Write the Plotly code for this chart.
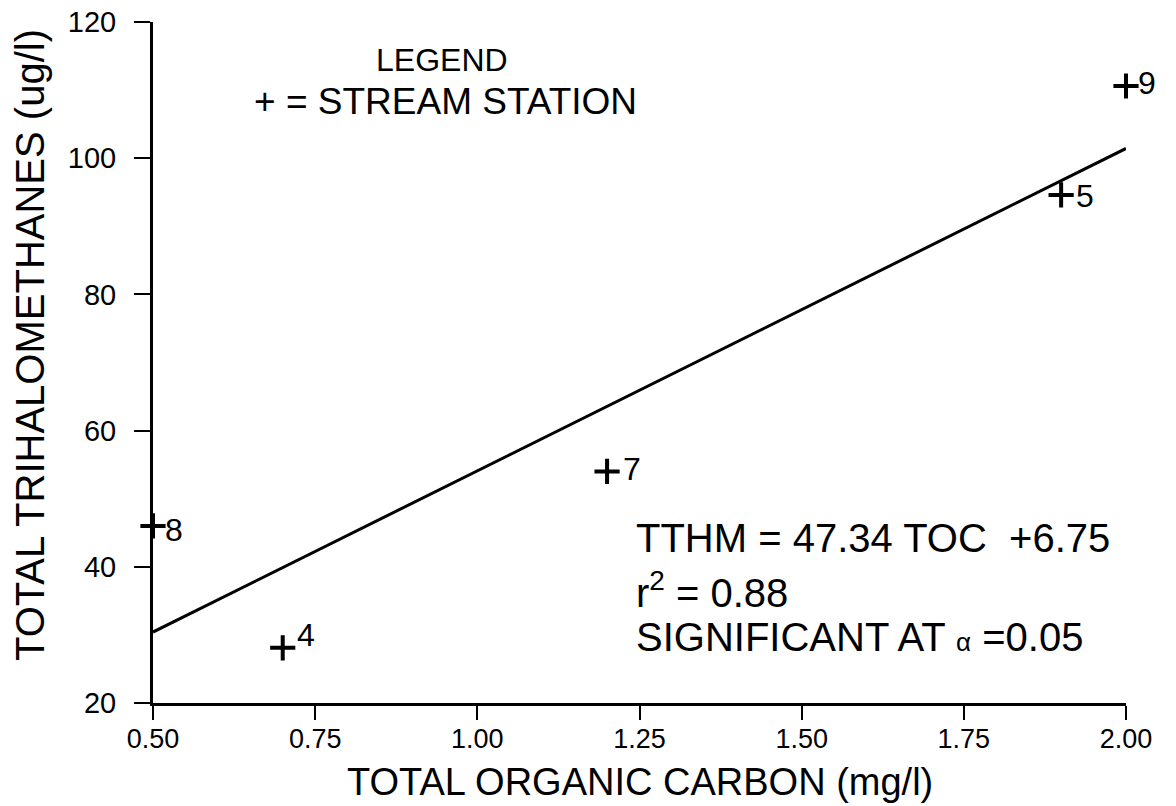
import plotly.graph_objects as go

# Data
stations = ["8", "4", "7", "5", "9"]
toc = [0.50, 0.70, 1.20, 1.90, 2.00]          # Total organic carbon (mg/l)
tthm = [46.0, 28.1, 54.0, 94.6, 110.6]        # Total trihalomethanes (ug/l)

# Regression: TTHM = 47.34 TOC + 6.75
slope = 47.34
intercept = 6.75
fit_x = [0.50, 2.00]
fit_y = [slope * x + intercept for x in fit_x]

x_ticks = [0.50, 0.75, 1.00, 1.25, 1.50, 1.75, 2.00]
x_ticklabels = ["0.50", "0.75", "1.00", "1.25", "1.50", "1.75", "2.00"]
y_ticks = [20, 40, 60, 80, 100, 120]

# label offsets (pixels) for each station number
label_dx = [10, 12, 14, 13, 10]
label_dy = [-4, 13, 2, -1, 3]

FONT = "Liberation Sans, Arial, Helvetica, sans-serif"

# plot area in screen pixels (page has an 8px body offset)
PL, PR, PT, PB = 153, 1126, 22, 703
OFF = 8


def px(sx):
    return (sx - PL) / (PR - PL)


def py(sy):
    return (PB - sy) / (PB - PT)


fig = go.Figure()

fig.add_trace(go.Scatter(
    x=fit_x, y=fit_y, mode="lines",
    line=dict(color="black", width=3),
    showlegend=False, hoverinfo="skip",
))

fig.add_trace(go.Scatter(
    x=toc, y=tthm, mode="markers",
    marker=dict(symbol="cross-thin", size=18, color="black",
                line=dict(color="black", width=4)),
    cliponaxis=False, showlegend=False,
))

for s, x, y, dx, dy in zip(stations, toc, tthm, label_dx, label_dy):
    fig.add_annotation(
        x=x, y=y, xref="x", yref="y", text=s, showarrow=False,
        xanchor="left", yanchor="middle", xshift=dx, yshift=dy,
        font=dict(family=FONT, size=32, color="black"),
    )

# Legend text
fig.add_annotation(
    x=px(442), y=py(60), xref="paper", yref="paper",
    text="LEGEND", showarrow=False, xanchor="center", yanchor="middle",
    font=dict(family=FONT, size=32, color="black"),
)
fig.add_annotation(
    x=px(252), y=py(101), xref="paper", yref="paper",
    text="+ = STREAM STATION", showarrow=False, xanchor="left", yanchor="middle",
    font=dict(family=FONT, size=37, color="black"),
)

# Regression text
eq_lines = [
    ("TTHM = 47.34 TOC  +6.75", 538),
    ("r<sup>2</sup> = 0.88", 590),
    ("SIGNIFICANT AT <span style='font-size:26px'>α</span> =0.05", 637),
]
for txt, ysc in eq_lines:
    fig.add_annotation(
        x=px(634), y=py(ysc), xref="paper", yref="paper",
        text=txt, showarrow=False, xanchor="left", yanchor="middle",
        font=dict(family=FONT, size=40, color="black"),
    )

# Axis titles
fig.add_annotation(
    x=px(640), y=py(782), xref="paper", yref="paper",
    text="TOTAL ORGANIC CARBON (mg/l)", showarrow=False,
    xanchor="center", yanchor="middle",
    font=dict(family=FONT, size=38, color="black"),
)
fig.add_annotation(
    x=px(30), y=py(345), xref="paper", yref="paper",
    text="TOTAL TRIHALOMETHANES (ug/l)", showarrow=False, textangle=-90,
    xanchor="center", yanchor="middle",
    font=dict(family=FONT, size=40, color="black"),
)

fig.update_xaxes(
    range=[0.5, 2.0], tickvals=x_ticks, ticktext=x_ticklabels,
    showline=True, linecolor="black", linewidth=3,
    ticks="outside", ticklen=14, tickwidth=2, tickcolor="black",
    showgrid=False, zeroline=False, automargin=False,
    ticklabeloverflow="allow", ticklabelstandoff=-4,
    tickfont=dict(family=FONT, size=27, color="black"),
)
fig.update_yaxes(
    range=[20, 120], tickvals=y_ticks,
    showline=True, linecolor="black", linewidth=3,
    ticks="outside", ticklen=16, tickwidth=2, tickcolor="black",
    showgrid=False, zeroline=False, automargin=False,
    ticklabeloverflow="allow", ticklabelstandoff=12,
    tickfont=dict(family=FONT, size=29, color="black"),
)

fig.update_layout(
    width=1176, height=806,
    margin=dict(l=PL - OFF, r=1176 - PR + OFF, t=PT - OFF, b=806 - PB + OFF),
    paper_bgcolor="white", plot_bgcolor="white",
    showlegend=False,
)

fig.write_html("out.html")
